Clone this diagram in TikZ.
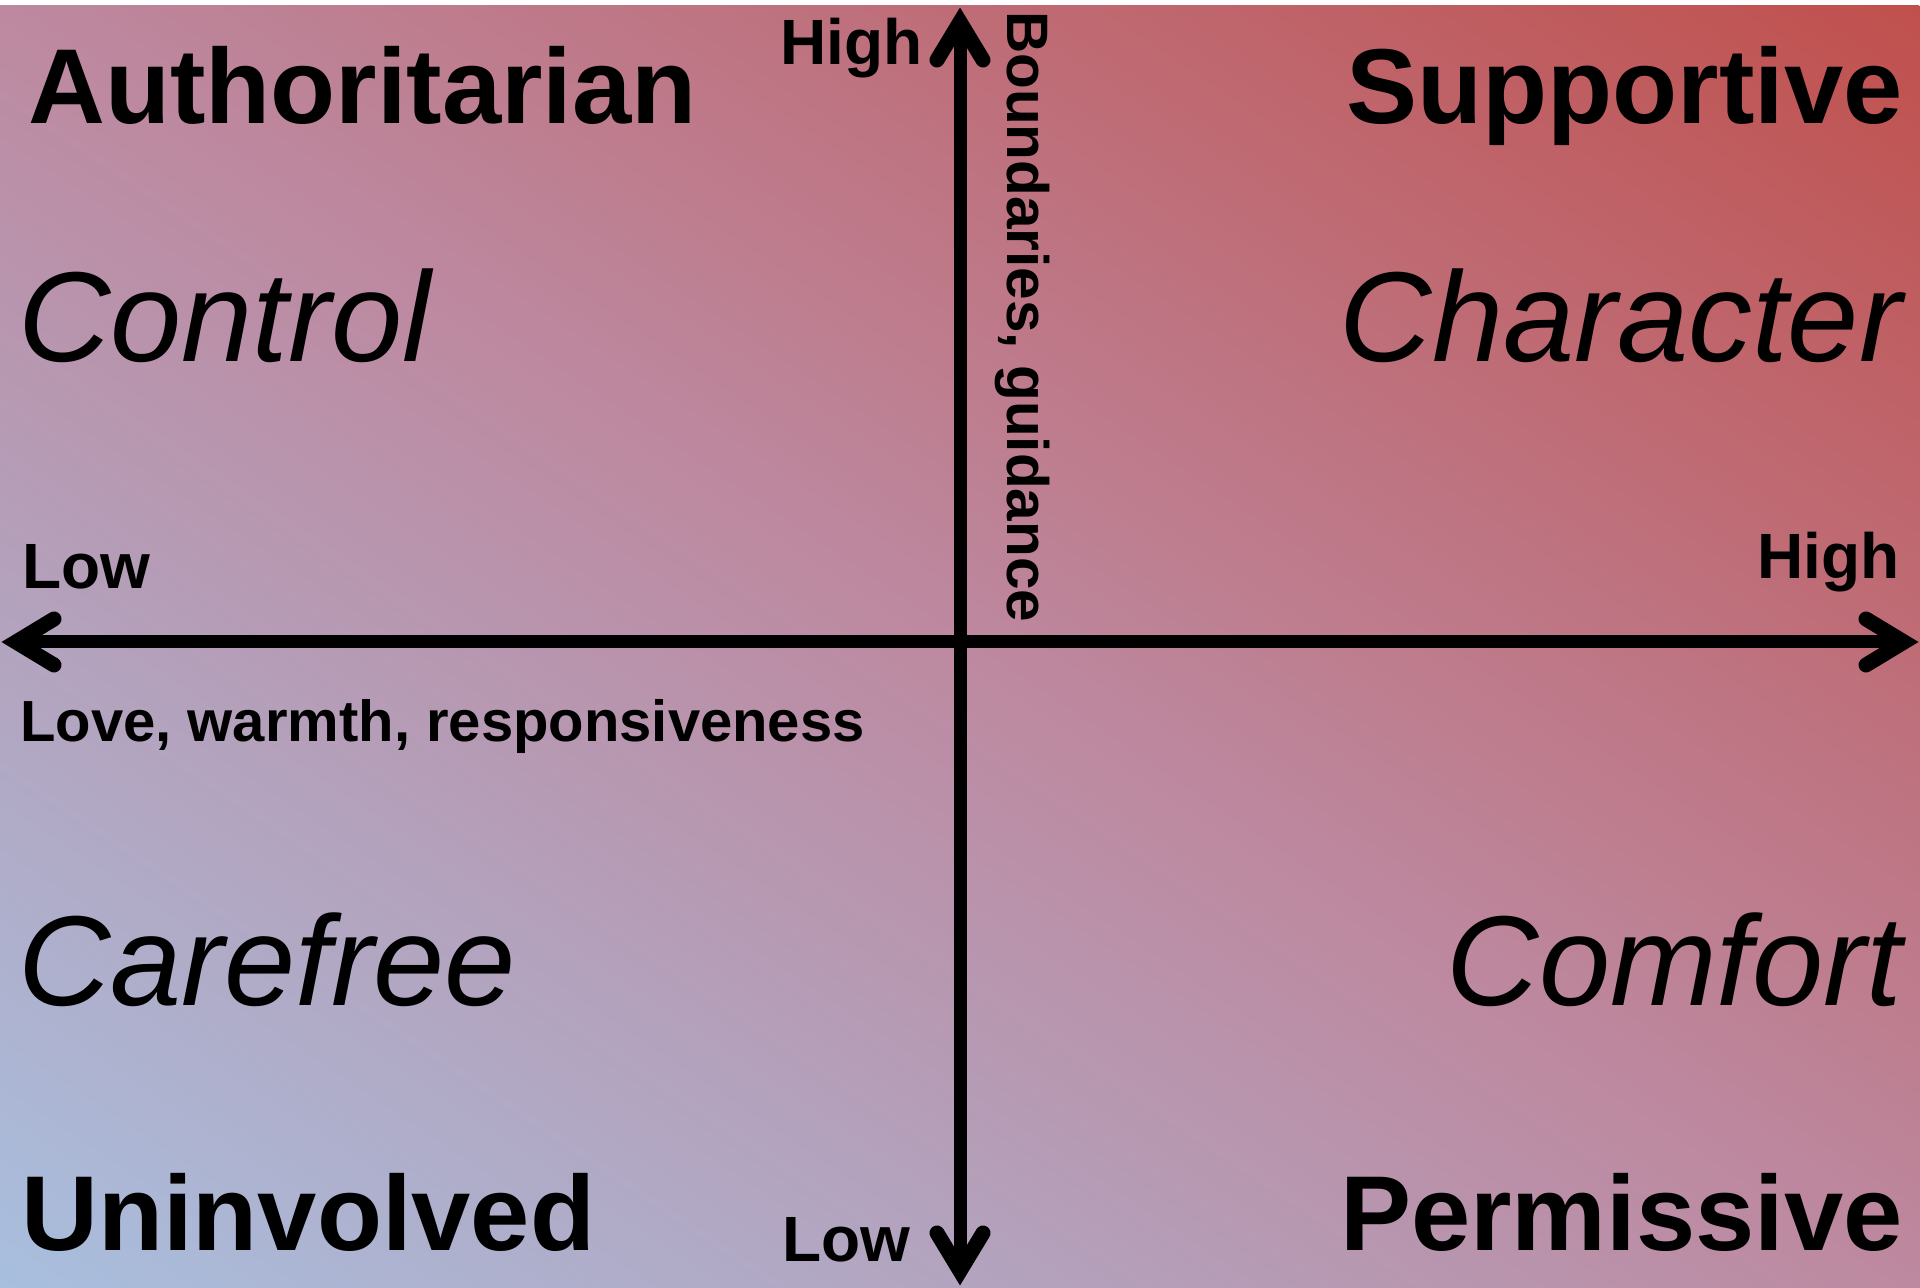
\documentclass[tikz,border=0pt]{standalone}
\usepackage{fontspec}
\setmainfont{Liberation Sans}
\definecolor{cblue}{HTML}{A8BFDE}
\definecolor{cmid}{HTML}{BD89A0}
\definecolor{cred}{HTML}{C0504D}
\pgfdeclarehorizontalshading{bgshade}{100bp}{color(0bp)=(cblue); color(25bp)=(cblue); color(50bp)=(cmid); color(75bp)=(cred); color(100bp)=(cred)}
\begin{document}
\begin{tikzpicture}[x=1pt,y=1pt,
  lab/.style={inner sep=0pt, font=\fontsize{64}{72}\selectfont\bfseries},
  midlab/.style={inner sep=0pt, font=\fontsize{58}{66}\selectfont\bfseries},
  vlab/.style={inner sep=0pt, font=\fontsize{58.5}{70}\selectfont\bfseries},
  big/.style={inner sep=0pt, font=\fontsize{106.5}{120}\selectfont\bfseries},
  ital/.style={inner sep=0pt, font=\fontsize{128}{150}\selectfont\itshape},
  axisline/.style={line width=13pt},
  chev/.style={line width=15pt, line cap=round, line join=miter}]
\useasboundingbox (0,0) rectangle (1920,1288);
\fill[white] (0,0) rectangle (1920,1288);
\begin{scope}
  \clip (0,0) rectangle (1920,1282);
  \shade[transform canvas={shift={(960pt,641pt)},rotate=56.27}, shading=bgshade]
    (-1066,-1400) rectangle (1066,1400);
\end{scope}
% axes
\coordinate (L) at (16,646);
\coordinate (R) at (1904,646);
\coordinate (T) at (960,1266);
\coordinate (B) at (960,17);
\draw[axisline] (L) -- (R);
\draw[axisline] (B) -- (T);
\draw[chev] ([shift={(38,23)}]L) -- (L) -- ([shift={(38,-23)}]L);
\draw[chev] ([shift={(-38,23)}]R) -- (R) -- ([shift={(-38,-23)}]R);
\draw[chev] ([shift={(-23,-38)}]T) -- (T) -- ([shift={(23,-38)}]T);
\draw[chev] ([shift={(-23,38)}]B) -- (B) -- ([shift={(23,38)}]B);
% quadrant titles
\node[big, anchor=base west] (auth) at (28,1164) {Authoritarian};
\node[big, anchor=base east] (supp) at (1903,1164) {Supportive};
\node[ital, anchor=base west] (ctrl) at (18,926) {Control};
\node[ital, anchor=base east] (char) at (1902,926) {Character};
\node[ital, anchor=base west] (care) at (18,282) {Carefree};
\node[ital, anchor=base east] (comf) at (1902,282) {Comfort};
\node[big, anchor=base west] (unin) at (21,37) {Uninvolved};
\node[big, anchor=base east] (perm) at (1903,37) {Permissive};
% axis labels
\node[lab, anchor=base west] (hiT) at (780,1223) {High};
\node[lab, anchor=base west] (loL) at (22,699) {Low};
\node[lab, anchor=base east] (hiR) at (1900,709) {High};
\node[lab, anchor=base west] (loB) at (782,27) {Low};
\node[midlab, anchor=base west] (love) at (20,546) {Love, warmth, responsiveness};
\node[vlab, rotate=-90, anchor=base west] (bound) at (1007,1277) {Boundaries, guidance};
\end{tikzpicture}
\end{document}
